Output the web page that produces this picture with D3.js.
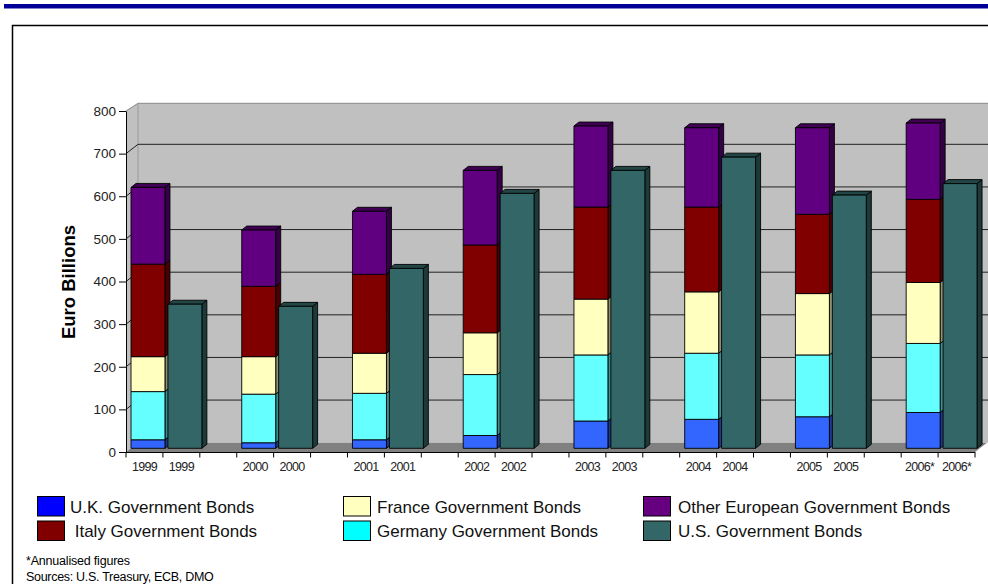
<!DOCTYPE html>
<html>
<head>
<meta charset="utf-8">
<script src="https://cdn.jsdelivr.net/npm/d3@7"></script>
<style>
    body { margin: 0; background: #fff; }
    svg { display: block; font-family: Arial, "Liberation Sans", sans-serif; }
</style>
</head>
<body>
<div id="chart"></div>
<script>
// --- Data (Euro billions) ---
const years = ["1999", "2000", "2001", "2002", "2003", "2004", "2005", "2006*"];
const ukBonds = [20, 13, 20, 30, 64, 68, 74, 84];
const germanyBonds = [113, 114, 109, 143, 155, 155, 145, 162];
const franceBonds = [82, 88, 94, 98, 131, 144, 144, 143];
const italyBonds = [217, 165, 185, 206, 216, 199, 186, 195];
const otherEuBonds = [180, 132, 148, 175, 190, 186, 203, 179];
const usBonds = [338, 333, 422, 598, 652, 683, 594, 621];
const yTicks = [0, 100, 200, 300, 400, 500, 600, 700, 800];

const euKeys = ["uk", "germany", "france", "italy", "other"];
const barColors = { uk: "#3366ff", germany: "#66ffff", france: "#ffffc0", italy: "#800000", other: "#600080", us: "#336666" };
const legendItems = [
    { label: "U.K. Government Bonds", color: "#0000ff" },
    { label: "France Government Bonds", color: "#ffffc0" },
    { label: "Other European Government Bonds", color: "#660080" },
    { label: " Italy Government Bonds", color: "#800000" },
    { label: "Germany Government Bonds", color: "#00ffff" },
    { label: "U.S. Government Bonds", color: "#336666" }
];

function drawChart() {
    const width = 988, height = 584;
    const svg = d3.select("#chart").append("svg").attr("width", width).attr("height", height);

    // Top rule and frame
    svg.append("rect").attr("x", 4).attr("y", 4).attr("width", width).attr("height", 4.5).attr("fill", "#000099");
    svg.append("rect").attr("x", 12.5).attr("y", 25.5).attr("width", width).attr("height", height)
        .attr("fill", "none").attr("stroke", "#000").attr("stroke-width", 1.5);

    // Categories: EU stack, US bar, gap (no gap after the last year)
    const cats = [];
    years.forEach((y, i) => {
        cats.push(`eu-${i}`, `us-${i}`);
        if (i < years.length - 1) cats.push(`gap-${i}`);
    });
    const catLabel = c => { const [k, i] = c.split("-"); return k === "gap" ? "" : years[+i]; };

    const xScale = d3.scaleBand().domain(cats).range([126, 975]);
    const yScale = d3.scaleLinear().domain([0, 800]).range([452, 111]);

    // 3D offsets
    const wallDx = 12, wallDy = 9.3;
    const barDx = 5, barDy = 3.7, sideDx = 5, sideDy = 4;
    const barW = xScale.bandwidth() * 0.92;
    const [x0, x1] = xScale.range();
    const y0 = yScale(0), yTop = yScale(800);

    // Walls
    const pts = a => a.map(p => p.join(",")).join(" ");
    svg.append("polygon") // back wall
        .attr("points", pts([[x0 + wallDx, yTop - 7.7], [width + 5, yTop - 7.7], [width + 5, y0 - wallDy], [x0 + wallDx, y0 - wallDy]]))
        .attr("fill", "#c0c0c0");
    svg.append("polygon") // side wall
        .attr("points", pts([[x0, yTop], [x0 + wallDx, yTop - 7.7], [x0 + wallDx, y0 - wallDy], [x0, y0]]))
        .attr("fill", "#c0c0c0");
    svg.append("polyline")
        .attr("points", pts([[x0, yTop], [x0 + wallDx, yTop - 7.7], [width + 5, yTop - 7.7]]))
        .attr("fill", "none").attr("stroke", "#8a8a8a").attr("stroke-width", 1);
    svg.append("line").attr("x1", x0 + wallDx).attr("x2", x0 + wallDx)
        .attr("y1", yTop - 7.7).attr("y2", y0 - wallDy).attr("stroke", "#9a9a9a");

    // Gridlines
    const grid = svg.append("g").attr("stroke", "#222").attr("stroke-width", 1).attr("fill", "none");
    yTicks.filter(t => t > 0 && t < 800).forEach(t => {
        grid.append("polyline").attr("points", pts([[x0, yScale(t)], [x0 + wallDx, yScale(t) - wallDy], [width + 5, yScale(t) - wallDy]]));
    });

    // Floor
    svg.append("polygon")
        .attr("points", pts([[x0, y0], [x1, y0], [x1 + wallDx, y0 - wallDy], [x0 + wallDx, y0 - wallDy]]))
        .attr("fill", "#808080");

    // Bars
    const rows = years.map((y, i) => ({ year: y, i, uk: ukBonds[i], germany: germanyBonds[i], france: franceBonds[i], italy: italyBonds[i], other: otherEuBonds[i] }));
    const stacked = d3.stack().keys(euKeys)(rows);
    const barsG = svg.append("g").attr("stroke", "#000").attr("stroke-width", 0.9).attr("stroke-linejoin", "round");

    function drawBox(x, vLow, vHigh, color, withTop) {
        const yT = yScale(vHigh) - barDy, yB = yScale(vLow) - barDy;
        const c = d3.color(color);
        barsG.append("polygon")
            .attr("points", pts([[x + barW, yT], [x + barW + sideDx, yT - sideDy], [x + barW + sideDx, yB - sideDy], [x + barW, yB]]))
            .attr("fill", c.darker(1.6));
        if (withTop) {
            barsG.append("polygon")
                .attr("points", pts([[x, yT], [x + sideDx, yT - sideDy], [x + barW + sideDx, yT - sideDy], [x + barW, yT]]))
                .attr("fill", c.darker(1.1));
        }
        barsG.append("rect").attr("x", x).attr("y", yT).attr("width", barW).attr("height", yB - yT).attr("fill", color);
    }

    years.forEach((y, i) => {
        const xe = xScale(`eu-${i}`) + barDx;
        stacked.forEach((layer, li) => {
            const d = layer[i];
            drawBox(xe, d[0], d[1], barColors[layer.key], li === stacked.length - 1);
        });
        drawBox(xScale(`us-${i}`) + barDx, 0, usBonds[i], barColors.us, true);
    });

    // Y axis
    const yAxis = d3.axisLeft(yScale).tickValues(yTicks).tickSize(7).tickPadding(3).tickSizeOuter(0);
    const yG = svg.append("g").attr("transform", `translate(${x0},0)`).call(yAxis);
    yG.select(".domain").attr("stroke", "#000");
    yG.selectAll("text").attr("font-size", 13.5).attr("fill", "#222").attr("font-family", "Arial, 'Liberation Sans', sans-serif");

    svg.append("text")
        .attr("transform", `translate(75, 282) rotate(-90)`)
        .attr("text-anchor", "middle")
        .attr("font-size", 18.5).attr("font-weight", "bold")
        .text("Euro Billions");

    // X axis (ticks at band edges, labels at band centres)
    const xAxis = d3.axisBottom(xScale).tickSize(0).tickPadding(10).tickFormat(catLabel);
    const xG = svg.append("g").attr("transform", `translate(0,${y0})`).call(xAxis);
    xG.select(".domain").remove();
    xG.selectAll("text").attr("font-size", 12.5).attr("letter-spacing", -0.7).attr("fill", "#222")
        .attr("font-family", "Arial, 'Liberation Sans', sans-serif");
    svg.append("line").attr("x1", x0).attr("x2", x1).attr("y1", y0 + 0.5).attr("y2", y0 + 0.5).attr("stroke", "#000");
    svg.append("g").attr("stroke", "#000").selectAll("line")
        .data(cats.map(c => xScale(c)).concat([x1]))
        .join("line")
        .attr("x1", d => d).attr("x2", d => d).attr("y1", y0).attr("y2", y0 + 5.5);

    // Legend
    const colX = [37, 343, 643], textX = [70, 377, 678];
    const legend = svg.append("g").attr("class", "legend");
    legendItems.forEach((item, k) => {
        const col = k % 3, row = Math.floor(k / 3);
        const by = 496.5 + row * 24.5;
        legend.append("rect").attr("x", colX[col] + 0.5).attr("y", by).attr("width", 27).attr("height", 19.5)
            .attr("fill", item.color).attr("stroke", "#000").attr("stroke-width", 1);
        legend.append("text").attr("x", textX[col]).attr("y", by + 16)
            .attr("font-size", 17).attr("fill", "#111").style("white-space", "pre")
            .text(item.label);
    });

    // Footnotes
    svg.append("text").attr("x", 26).attr("y", 565).attr("font-size", 12.5).attr("letter-spacing", -0.2)
        .text("*Annualised figures");
    svg.append("text").attr("x", 26).attr("y", 581).attr("font-size", 12.5).attr("letter-spacing", -0.3)
        .text("Sources: U.S. Treasury, ECB, DMO");
}

drawChart();
</script>
</body>
</html>
